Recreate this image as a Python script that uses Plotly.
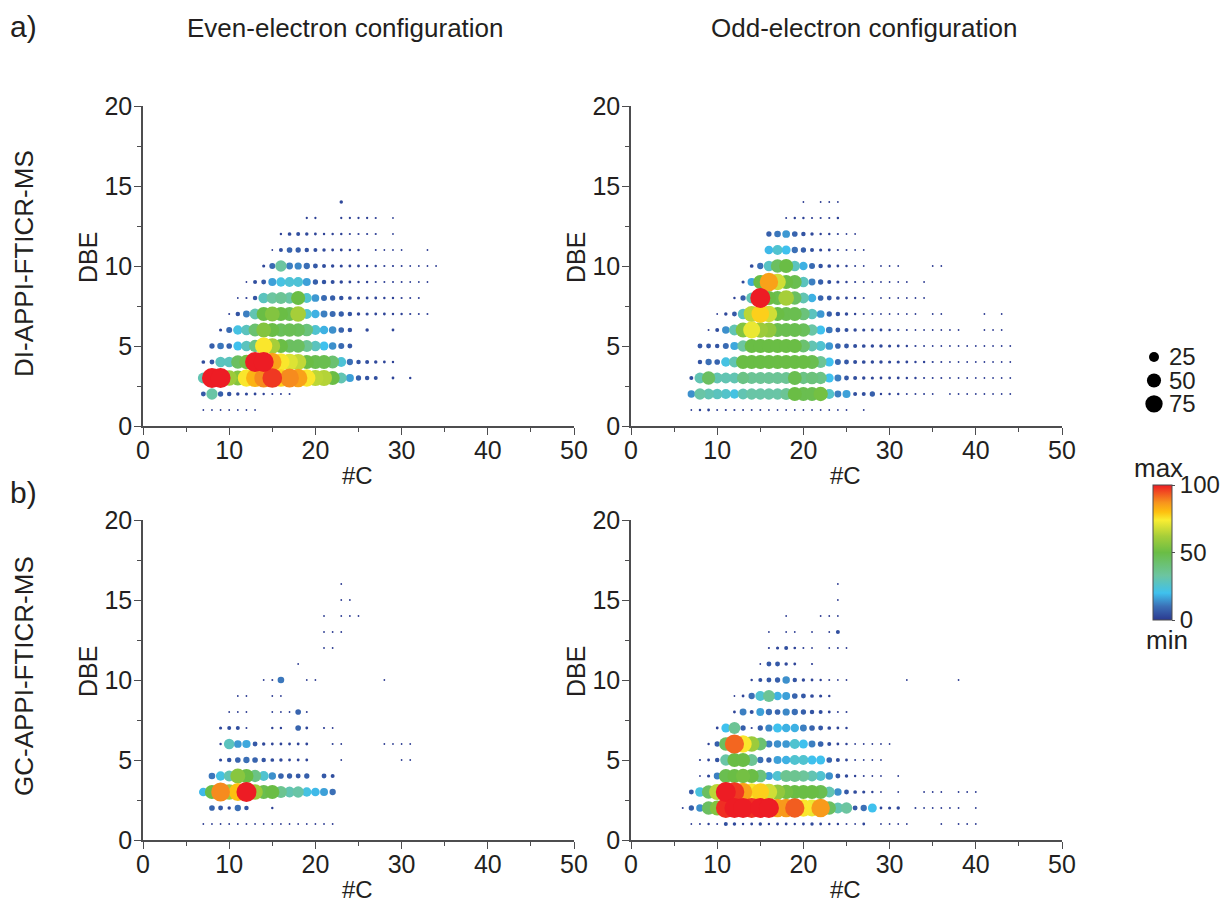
import plotly.graph_objects as go

N = None
# Each panel: DBE rows, first carbon number of each row, intensity values along the row (None = no peak)
a_even_dbe = [14, 13, 12, 11, 10, 9, 8, 7, 6, 5, 4, 3, 2, 1]
a_even_first_c = [23, 19, 16, 15, 14, 12, 11, 10, 9, 8, 7, 7, 7, 7]
a_even_values = [
    [3],
    [1.3, 1.3, N, N, 1.3, 1.3, 1.3, 1.3, 1.2, N, .7],
    [1.5, 3.5, 4, 3, 2, 1.5, 1.5, 1.5, 1.2, 1.2, 1.2, 1.2, N, .8],
    [.7, 4, 8, 7, 5, 4, 3, 2, 2, 1.5, 1.5, N, 1, .8, .8, .7, N, N, .4],
    [2.5, 9, 33, 12, 13, 10, 6, 4, 3, 2.5, 2, 2, 1.5, 1.5, 1.2, 1.2, 1, .8, .6, .4, .3],
    [.5, 4, 6, 16, 22, 24, 24, 16, 7, 5, 4, 3, 2, 1.5, 1.5, 1.2, 1, 1, 1, .8, .7, .5],
    [.7, 1.2, 5, 28, 33, 35, 32, 50, 25, 15, 9, 7, 5, 3.5, 2.5, 2, 2, 1.5, 1.5, 1.2, 1, 1],
    [1, 5, 12, 30, 50, 55, 50, 48, 62, 25, 18, 12, 9, 7, 5, 3, 2.5, 2, 2, 1.5, 1.5, 1.2, 1, 1],
    [2.5, 9, 22, 28, 42, 55, 50, 46, 47, 46, 40, 25, 18, 14, 8, 5, N, 3, N, N, 2],
    [7, 11, 8, 20, 28, 38, 75, 62, 50, 45, 45, 35, 28, 20, 14, 9, 6],
    [3.5, 6, 28, 28, 45, 52, 100, 100, 85, 75, 70, 66, 50, 48, 48, 42, 24, 10, 5, 4, 3, 2, 1.5],
    [30, 100, 100, 60, 55, 75, 82, 88, 97, 78, 88, 85, 75, 65, 64, 50, 30, 16, 7, 5, 4, N, 2, N, 1.5],
    [6, 32, 7, 5, 3, 2.5, 2, 1.5, 1, 1, 1],
    [.8, .8, .8, .8, .8, .8, .8],
]

a_odd_dbe = [14, 13, 12, 11, 10, 9, 8, 7, 6, 5, 4, 3, 2, 1]
a_odd_first_c = [20, 18, 16, 16, 14, 13, 12, 10, 9, 8, 8, 7, 7, 7]
a_odd_values = [
    [.3, N, .3, .3, .3],
    [1, 1.5, 1.5, 1.2, 1.2, 1.2, 1.5],
    [7, 11, 15, 8, 5, 3, 1.5, 1.5, 1.2, .7, .5],
    [19, 25, 20, 10, 7, 4, 2.5, 2, 1.2, 1, .7, .5],
    [3.5, 10, 27, 45, 50, 28, 18, 9, 5, 3.5, 2, 1.5, 1, .7, N, .3, .3, .3, N, N, N, .2, .2],
    [2.5, 17, 50, 85, 68, 50, 48, 28, 12, 7, 4, 2.5, 1.5, 1.2, 1, .7, .6, .5, .4, .4, N, .2],
    [1.5, 7, 30, 100, 50, 48, 62, 45, 30, 18, 8, 6, 3.5, 2, 1.5, 1.2, N, .5, .5, .4, .4, .3, .3],
    [.8, 3, 6, 28, 65, 78, 68, 50, 48, 48, 40, 28, 15, 7, 5, 3, 1.5, 1.2, 1, .8, .7, .6, .6, .5, N, .3, .3,
     N, N, N, N, .2, N, .2],
    [1, 4, 14, 30, 55, 72, 60, 58, 48, 48, 48, 46, 32, 20, 11, 6, 4, 3, 2.5, 2, 2, 1.5, 1.2, 1, .8, .6, .5, .4,
     .4, .4, N, N, .2, .2, .2],
    [6, 6, 5, 9, 17, 33, 50, 50, 50, 50, 50, 50, 42, 30, 25, 15, 8, 6, 4, 3.5, 3, 3, 2.5, 2, 1.5, 1.2, 1, .8,
     .7, .6, .5, .5, .4, .4, .4, .4, .3],
    [5, 10, 8, 22, 30, 50, 50, 50, 50, 50, 50, 50, 50, 48, 35, 20, 9, 6, 4, 3.5, 3, 3, 2.5, 2.5, 2, 1.5, 1.5,
     1.2, 1, .8, .8, .7, .6, .6, .5, .5, .4],
    [4, 30, 45, 30, 30, 30, 38, 35, 35, 35, 35, 35, 48, 38, 40, 38, 20, 12, 6, 4, 3, 2.5, 2, 2, 2, 1.5, 1.5,
     1.2, 1, 1, .8, .8, .7, .7, .6, .6, .5, .5],
    [14, 32, 30, 28, 26, 22, 30, 32, 32, 32, 32, 35, 50, 48, 48, 52, 26, 12, 16, 4, 4, 7, 1.5, 1.5, 1.5, 1, 1,
     1, .8, N, .6, .6, .6, .6, .6, .6, .5, .5],
    [.8, 1.5, 2, 1, 1.2, 1.2, 1, 1, 1, .8, .8, .8, .7, .7, .7, .7, .7, .5, .4, N, .3],
]

b_even_dbe = [16, 15, 14, 13, 12, 11, 10, 9, 8, 7, 6, 5, 4, 3, 2, 1]
b_even_first_c = [23, 23, 21, 21, 21, 18, 14, 11, 10, 9, 9, 9, 8, 7, 8, 7]
b_even_values = [
    [.2],
    [.2, .2],
    [.3, N, .7, .4, .2],
    [.3, .3, .3],
    [.3, .3],
    [.3],
    [.5, 1, 11, N, N, .6, .4, N, N, N, N, N, N, N, .4],
    [.3, .3, N, N, .5, .5],
    [.3, .5, .6, N, N, .7, .7, .7, 8, .9],
    [2.5, 4, 4, 1, N, N, 1.5, 1.5, N, 8, 2, N, 1.2, .4],
    [1.5, 28, 15, 17, 6, 3, 2, 2, 2, 2, 2, N, N, 1, .3, N, N, N, N, .3, .3, .3, .3],
    [2.5, 5, 8, 10, 8, 5, 3.5, 3, 2, 2, 2, N, N, N, .3, N, N, N, N, N, N, .3, .3],
    [11, 22, 30, 56, 50, 38, 25, 14, 8, 7, 6, 7, N, 6, 4],
    [19, 50, 88, 60, 80, 100, 60, 48, 50, 36, 30, 32, 22, 19, 16, 10],
    [8, 6, 3, 10, 5, N, N, 1.5],
    [.3, .3, .6, .6, .9, .9, .6, .5, .5, .4, .4, .4, .4, .4, .4, .4],
]

b_odd_dbe = [16, 15, 14, 13, 12, 11, 10, 9, 8, 7, 6, 5, 4, 3, 2, 1]
b_odd_first_c = [24, 24, 18, 16, 16, 15, 14, 12, 12, 10, 9, 8, 8, 7, 6, 7]
b_odd_values = [
    [.2],
    [.2],
    [.3, N, N, N, .2, .2, .3],
    [.3, N, .7, .7, N, .5, N, .4, 4],
    [1.2, 2.5, 4, 1.8, 1, .7, N, .7, 1, .4],
    [.4, 6, 6, 3, 2, N, 1.2],
    [1.5, 4, 6, 7, 14, 5, 3, 2, 1.5, 1, .4, .3, N, N, N, N, N, N, .3, N, N, N, N, N, .3],
    [.5, 2, 10, 25, 35, 18, 16, 8, 6, 3.5, 2.5, 1.5],
    [2, 12, 4, 16, 10, 8, 13, 10, 7, 5, 4, 2, 1, 1],
    [2, 20, 35, 7, 1.2, 7, 13, 20, 18, 18, 12, 8, 6, 3.5, 2, 1.5],
    [1.5, 7, 45, 92, 75, 60, 42, 12, 14, 15, 25, 20, 12, 8, 4, 2, 1.5, .7, .4, .3, .3, .3],
    [1.2, 2, 5, 32, 50, 50, 35, 10, 7, 16, 18, 25, 25, 20, 20, 8, 4, 2, 1, .7, .3, .3],
    [.6, 2.5, 12, 48, 50, 52, 50, 40, 16, 25, 36, 36, 34, 30, 25, 14, 6, 3, 1.5, 1, .7, .4, N, .3],
    [6, 23, 45, 65, 100, 97, 85, 75, 78, 68, 58, 52, 50, 50, 50, 48, 30, 14, 6, 3.5, 2.5, 1.5, .7, N, .3, N, N,
     .2, .2, .2, N, .2, .2, .2],
    [1, 7, 14, 45, 55, 98, 100, 100, 98, 100, 100, 85, 86, 93, 75, 72, 86, 45, 30, 33, 6, 10, 20, 2, 2.5, 3, N,
     1, .7, .5, .4, .4, .3, N, .3],
    [.4, 1, 1.5, 1, 4, 3, 1.5, 2, 3, 1.5, 2, 2, 1.5, 2, 3, 2, 1.5, 1.5, 1, .8, 2, N, .5, .5, .4, .3, N, N, N,
     .2, N, .2, .2, .2],
]

x_ticks = [0, 10, 20, 30, 40, 50]
y_ticks = [0, 5, 10, 15, 20]
legend_values = [75, 50, 25]
colorbar_ticks = [0, 50, 100]
colors = [
    [0.00, "#2b3990"], [0.10, "#3b6fb6"], [0.20, "#3fc1ee"], [0.33, "#6cc5a0"],
    [0.50, "#6abd45"], [0.62, "#a6ce39"], [0.74, "#f9ed32"], [0.80, "#fdc010"],
    [0.87, "#f7941d"], [1.00, "#ed1c24"],
]

W, H = 1224, 902
M = 36  # fixed margin, so that nothing can push the plot area
FONT = "Liberation Sans"
INK = "#231f20"
AXIS = "#4d4d4f"
SIZEREF = 2 * 100 / 20 ** 2


def fx(p):
    return (p - M) / (W - 2 * M)


def fy(p):
    return 1 - (p - M) / (H - 2 * M)


def expand(dbes, starts, rows):
    xs, ys, vs = [], [], []
    for d, c0, row in zip(dbes, starts, rows):
        for i, v in enumerate(row):
            if v is not None:
                xs.append(c0 + i)
                ys.append(d)
                vs.append(v)
    order = sorted(range(len(vs)), key=lambda k: vs[k])
    return [xs[k] for k in order], [ys[k] for k in order], [vs[k] for k in order]


def label(text, x, y, size=26, angle=0):
    return dict(text=text, x=fx(x), y=fy(y), xref="paper", yref="paper", showarrow=False, textangle=angle,
                font=dict(size=size, color=INK, family=FONT), xanchor="center", yanchor="middle")


panels = [
    (a_even_dbe, a_even_first_c, a_even_values, 143, 574, 106, 426),
    (a_odd_dbe, a_odd_first_c, a_odd_values, 631, 1062, 106, 426),
    (b_even_dbe, b_even_first_c, b_even_values, 143, 574, 520, 840),
    (b_odd_dbe, b_odd_first_c, b_odd_values, 631, 1062, 520, 840),
]

fig = go.Figure()
layout = {}
axis_titles = []
for n, (d, s, r, x0, x1, y0, y1) in enumerate(panels, start=1):
    xs, ys, vs = expand(d, s, r)
    fig.add_trace(go.Scatter(
        x=xs, y=ys, mode="markers", xaxis=f"x{n}", yaxis=f"y{n}", showlegend=False, cliponaxis=False,
        marker=dict(size=vs, sizemode="area", sizeref=SIZEREF, sizemin=0.9, color=vs, coloraxis="coloraxis",
                    line_width=0, opacity=1),
    ))
    common = dict(
        showline=True, linecolor=AXIS, linewidth=1.6, ticks="outside", tickcolor=AXIS, tickwidth=1.4,
        showgrid=False, zeroline=False, ticklen=7, tickfont=dict(size=25, color=INK, family=FONT),
    )
    layout[f"xaxis{n}"] = dict(
        common, domain=[fx(x0), fx(x1)], range=[0, 50], anchor=f"y{n}", tickvals=x_ticks, ticklabelstandoff=-6,
        minor=dict(dtick=5, ticks="outside", ticklen=4, tickcolor=AXIS, tickwidth=1.2),
    )
    layout[f"yaxis{n}"] = dict(
        common, domain=[fy(y1), fy(y0)], range=[0, 20], anchor=f"x{n}", tickvals=y_ticks, ticklabelstandoff=-3,
        minor=dict(dtick=2.5, ticks="outside", ticklen=4, tickcolor=AXIS, tickwidth=1.2),
    )
    axis_titles.append(label("#C", (x0 + x1) / 2 - 1, y1 + 49, 24))
    axis_titles.append(label("DBE", x0 - 55, y1 - 168, 25, -90))

# size key, drawn through its own hidden axes
fig.add_trace(go.Scatter(
    x=[0, 0, 0], y=[str(v) for v in legend_values], mode="markers", xaxis="x5", yaxis="y5", showlegend=False,
    marker=dict(size=legend_values, sizemode="area", sizeref=SIZEREF, color="black", line_width=0, opacity=1),
))
layout["xaxis5"] = dict(domain=[fx(1140), fx(1168)], visible=False, range=[-1, 1], anchor="y5")
layout["yaxis5"] = dict(
    domain=[fy(417), fy(348)], side="right", anchor="x5", type="category", showline=False, showgrid=False,
    zeroline=False, ticks="", tickfont=dict(size=24, color=INK, family=FONT), tickmode="linear", dtick=1,
    tick0=0, categoryorder="array", categoryarray=[str(v) for v in legend_values],
)

fig.update_layout(
    width=W, height=H, margin=dict(l=M, r=M, t=M, b=M, autoexpand=False), paper_bgcolor="white",
    plot_bgcolor="white", font=dict(family=FONT, color=INK),
    coloraxis=dict(
        cmin=0, cmax=100, colorscale=colors,
        colorbar=dict(
            thickness=19, thicknessmode="pixels", len=135, lenmode="pixels", x=fx(1153), xanchor="left",
            y=fy(620), yanchor="bottom", tickvals=colorbar_ticks, ticks="outside", ticklen=3, tickcolor=AXIS,
            outlinecolor=AXIS, outlinewidth=1, tickfont=dict(size=24, color=INK, family=FONT), xpad=0, ypad=0,
        ),
    ),
    annotations=[
        label("a)", 23, 26, 30),
        label("b)", 23, 492, 30),
        label("Even-electron configuration", 345, 28),
        label("Odd-electron configuration", 864, 28),
        label("DI-APPI-FTICR-MS", 24, 264, 26, -90),
        label("GC-APPI-FTICR-MS", 24, 676, 26, -90),
        label("max", 1158, 468, 26),
        label("min", 1167, 640, 26),
    ] + axis_titles,
    **layout,
)

fig.write_html("out.html", config=dict(displayModeBar=False),
               post_script="document.body.style.margin='0';document.body.style.overflow='hidden';")
